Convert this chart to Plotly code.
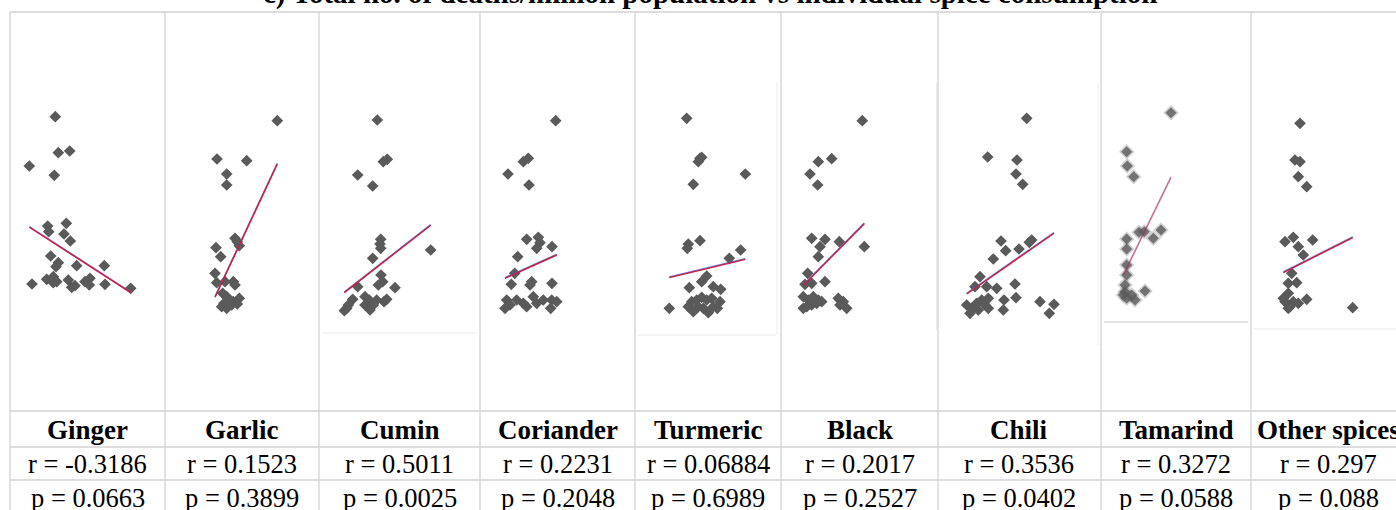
import numpy as np
import plotly.graph_objects as go

W, H = 1396, 510

title = "c) Total no. of deaths/million population vs individual spice consumption"
spices = ["Ginger", "Garlic", "Cumin", "Coriander", "Turmeric", "Black", "Chili", "Tamarind", "Other spices"]
r_values = ["-0.3186", "0.1523", "0.5011", "0.2231", "0.06884", "0.2017", "0.3536", "0.3272", "0.297"]
p_values = ["0.0663", "0.3899", "0.0025", "0.2048", "0.6989", "0.2527", "0.0402", "0.0588", "0.088"]

# per-spice scatter data (consumption on x, deaths per million on y, panel units)
ginger_x = [45.3, 48.3, 59.7, 19.3, 44.3, 37.7, 38.7, 56.3, 54, 60.3, 40.7, 48.3, 46, 66.7, 94.3, 22, 36.7, 43.3, 46.7, 43.3, 58.3, 61.7, 65, 75, 80, 79.3, 95, 120.7]
ginger_y = [294.3, 258.3, 260, 245, 235.7, 185, 179.3, 187.7, 177, 170, 155, 148.3, 144.3, 145.3, 145.3, 127, 131.7, 134.3, 129.3, 128.3, 131, 123.7, 125.3, 129.3, 132.7, 126, 126.7, 122.7]

garlic_x = [112.3, 52, 81.7, 61.7, 61.7, 70, 72.3, 74.3, 51, 55.7, 50, 51.7, 60, 68.3, 70, 57.7, 61.7, 65, 59, 68.3, 74.3, 56.7, 61.7, 66.7, 72.3]
garlic_y = [290.3, 252, 250.3, 237, 226, 172.7, 169.3, 165.3, 163.3, 154.3, 137.7, 128.3, 129.3, 129.3, 126, 117.7, 114.3, 111, 107.7, 109.3, 112.7, 104.3, 102.7, 106, 107]

cumin_x = [58.3, 64.3, 68.3, 38.7, 53.7, 61.7, 61, 61.7, 53.7, 111.7, 62, 63.7, 59.3, 76, 38.7, 33.7, 29.3, 25.3, 27.7, 46, 50.3, 54.3, 51, 46, 57.7, 65, 67.7]
cumin_y = [291, 249.3, 251.7, 236, 225, 171.7, 167, 162.7, 152.7, 161, 136, 129.3, 126, 123.3, 124.3, 111.7, 106, 100.3, 102.7, 114.3, 111, 106, 101, 106, 111, 109.3, 111.7]

coriander_x = [75.7, 43.3, 48.3, 28, 49, 46.7, 58.3, 56.7, 60, 72, 37.7, 34.7, 31.3, 51.7, 50, 72, 26.7, 30, 25, 36.7, 43.3, 46.7, 53.3, 56.7, 63.3, 71.7, 76.7, 70.7]
coriander_y = [290.3, 249.3, 252.7, 237, 226, 171.7, 173.7, 162.7, 168.3, 164.3, 154.3, 137.7, 126.7, 129.3, 126, 127.7, 111, 106, 102.7, 111, 107.7, 104.3, 114.3, 107.7, 111, 111, 109.3, 102.7]

turmeric_x = [51.7, 65, 66.7, 63.3, 110.3, 58.3, 53.3, 52.3, 65, 105.7, 94.3, 71.7, 66.7, 54.3, 78.3, 85.7, 34.3, 56.7, 61.7, 66.7, 71.7, 76.7, 85, 53.3, 58.3, 63.3, 68.3, 73.3, 78.3, 82.3]
turmeric_y = [292.7, 252.7, 253.7, 249.3, 237, 226.7, 167, 162.7, 170.3, 161, 152.7, 135, 129.3, 123.3, 124.3, 121.7, 102.7, 109.3, 111, 113.7, 111, 112.7, 109.3, 104.3, 99.3, 104.3, 102.7, 98.3, 104.3, 102.7]

black_x = [81.3, 37.3, 50.7, 29, 36.7, 30.7, 44, 39, 58.3, 37.3, 83.3, 26.7, 24, 44, 30.7, 22.3, 27.3, 32.3, 37.3, 40.7, 25.7, 30.7, 35.7, 22.3, 57.3, 62.3, 65.7, 59]
black_y = [290.3, 249.3, 252.3, 237, 226, 172.7, 171.7, 164.3, 169.3, 154.3, 164.3, 137.7, 126.7, 129.3, 127.7, 114.3, 111, 114.3, 111, 109.3, 104.3, 106, 107.7, 102.7, 112.7, 109.3, 102.7, 106]

chili_x = [88.7, 49.7, 79, 78, 84.7, 63, 93.7, 91.3, 67.7, 81, 55.3, 42, 37, 48.7, 58.7, 77, 28.7, 33.7, 38.7, 43.7, 47, 50.3, 32, 40.3, 50.3, 66, 65.3, 78, 102, 116, 111.3]
chili_y = [292.7, 254, 251, 237, 226.7, 170, 171, 168.7, 160.3, 162, 152, 134.3, 124.3, 124.3, 122.7, 127, 106, 102.7, 107.7, 111, 106, 112.7, 97.7, 101, 102.7, 111, 101, 113.3, 109.3, 106.7, 97.7]

tamarind_x = [70, 25.7, 26.3, 32.7, 38, 43.3, 52.3, 60, 25.7, 25.7, 25.7, 25.7, 24, 24, 25.7, 34, 44, 30.7, 22.3]
tamarind_y = [298.3, 259.3, 245, 234.3, 178.7, 179.3, 172.7, 181, 172, 162, 146, 136, 126, 119.3, 112.7, 111, 120, 116, 116]

other_x = [49, 44, 49, 47.3, 55.7, 34, 42.3, 61.7, 47.3, 52.3, 40.7, 37.3, 45.7, 32.3, 37.3, 42.3, 39, 47.3, 55.7, 34, 37.3, 101.7]
other_y = [287.7, 251, 249.3, 234.3, 224.3, 169.3, 173.7, 171, 164.3, 156, 137.7, 127.7, 128.3, 112.7, 117.7, 109.3, 104.3, 107.7, 111.7, 109.3, 102.7, 103.3]

# linear fit parameters (intercept, slope) per spice
fit_intercept = [196.2, 6.7, 98.6, 121.4, 125.2, 103.0, 97.1, 90.0, 122.0]
fit_slope = [-0.645, 2.14, 0.780, 0.451, 0.239, 1.012, 0.695, 2.051, 0.506]

series_x = [ginger_x, garlic_x, cumin_x, coriander_x, turmeric_x, black_x, chili_x, tamarind_x, other_x]
series_y = [ginger_y, garlic_y, cumin_y, coriander_y, turmeric_y, black_y, chili_y, tamarind_y, other_y]

# layout geometry (pixels)
col_edges = [10, 165, 319, 480, 635, 781, 938, 1101, 1251, 1402]
top_line, plot_bottom, row1, row2 = 12, 411, 447, 480
y_span = plot_bottom - top_line

def px(x):
    return min(max(x / W, 0.0), 1.0)

def py(y):
    return min(max(1 - y / H, 0.0), 1.0)

fig = go.Figure()
layout_axes = {}
for i in range(9):
    n = "" if i == 0 else str(i + 1)
    left, right = col_edges[i], min(col_edges[i + 1], W)
    xs = np.array(series_x[i], dtype=float)
    ys = np.array(series_y[i], dtype=float)
    blur = spices[i] == "Tamarind"
    if blur:
        # soft halo: this panel's picture is blurry in the original
        fig.add_trace(go.Scatter(
            x=xs, y=ys, mode="markers", xaxis="x" + n, yaxis="y" + n,
            marker=dict(symbol="diamond", size=12, color="#6a6a6a", opacity=0.3, line=dict(width=0)),
            showlegend=False, hoverinfo="skip"))
    fig.add_trace(go.Scatter(
        x=xs, y=ys, mode="markers", xaxis="x" + n, yaxis="y" + n,
        marker=dict(symbol="diamond", size=8.5 if blur else 9, color="#5a5a5a",
                    opacity=0.8 if blur else 1.0, line=dict(width=0)),
        showlegend=False, hoverinfo="skip"))
    lx = np.array([xs.min(), xs.max()])
    ly = fit_intercept[i] + fit_slope[i] * lx
    fig.add_trace(go.Scatter(
        x=lx, y=ly + 0.6, mode="lines", xaxis="x" + n, yaxis="y" + n,
        line=dict(color="#4a5ed0", width=1.6), opacity=0.3 if blur else 0.8,
        showlegend=False, hoverinfo="skip"))
    fig.add_trace(go.Scatter(
        x=lx, y=ly, mode="lines", xaxis="x" + n, yaxis="y" + n,
        line=dict(color="#d21a3c", width=1.4), opacity=0.55 if blur else 1.0,
        showlegend=False, hoverinfo="skip"))
    layout_axes["xaxis" + n] = dict(domain=[px(left), px(right)], range=[0, right - left],
                                    visible=False, fixedrange=True, anchor="y" + n)
    layout_axes["yaxis" + n] = dict(domain=[py(plot_bottom), py(top_line)], range=[0, y_span],
                                    visible=False, fixedrange=True, anchor="x" + n)

grid = "#d2d2d2"
faint = "#ebebeb"
shapes = []
for yy in [top_line, plot_bottom, row1, row2]:
    shapes.append(dict(type="line", xref="paper", yref="paper", x0=px(col_edges[0]), x1=1.0,
                       y0=py(yy), y1=py(yy), line=dict(color=grid, width=1.3)))
for xx in col_edges[:-1]:
    shapes.append(dict(type="line", xref="paper", yref="paper", x0=px(xx), x1=px(xx),
                       y0=py(top_line), y1=0, line=dict(color=grid, width=1.3)))
edges = [
    (322, 333, 476, 333, faint), (637, 335, 776, 335, faint), (777, 83, 777, 335, faint),
    (936.5, 83, 936.5, 330, faint), (1098, 83, 1098, 345, faint),
    (1104, 322, 1248, 322, "#c4c4c4"), (1253, 329, 1396, 329, faint),
]
for x0, y0, x1, y1, c in edges:
    shapes.append(dict(type="line", xref="paper", yref="paper", x0=px(x0), x1=px(x1),
                       y0=py(y0), y1=py(y1), line=dict(color=c, width=1)))

serif = "Liberation Serif, Times New Roman, serif"
annotations = [dict(text="<b>" + title + "</b>", xref="paper", yref="paper", x=px(710), y=py(12.5),
                    xanchor="center", yanchor="bottom", showarrow=False,
                    font=dict(family=serif, size=29, color="#000"))]
for i in range(9):
    cx = (col_edges[i] + col_edges[i + 1]) / 2 / W
    if i == 8:
        cx = 1328 / W
    annotations.append(dict(text="<b>" + spices[i] + "</b>", xref="paper", yref="paper", x=cx,
                            y=py(430), xanchor="center", yanchor="middle", showarrow=False,
                            font=dict(family=serif, size=27, color="#000")))
    annotations.append(dict(text="r = " + r_values[i], xref="paper", yref="paper", x=cx,
                            y=py(464), xanchor="center", yanchor="middle", showarrow=False,
                            font=dict(family=serif, size=26.5, color="#000")))
    annotations.append(dict(text="p = " + p_values[i], xref="paper", yref="paper", x=cx,
                            y=py(498), xanchor="center", yanchor="middle", showarrow=False,
                            font=dict(family=serif, size=26.5, color="#000")))

fig.update_layout(
    width=W, height=H, margin=dict(l=0, r=0, t=0, b=0),
    paper_bgcolor="white", plot_bgcolor="rgba(0,0,0,0)",
    shapes=shapes, annotations=annotations, **layout_axes)

fig.write_html("out.html", config={"displayModeBar": False},
               post_script="document.body.style.margin='0px';document.body.style.overflow='hidden';")
